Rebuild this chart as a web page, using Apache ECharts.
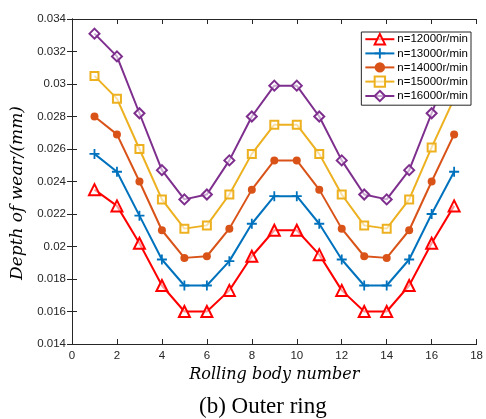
<!DOCTYPE html>
<html><head><meta charset="utf-8">
<script src="https://cdn.jsdelivr.net/npm/echarts@6/dist/echarts.min.js"></script>
<style>html,body{margin:0;padding:0;background:#fff}#c{width:486px;height:419px}</style>
</head><body><div id="c"></div>
<script>
const bodies = [1,2,3,4,5,6,7,8,9,10,11,12,13,14,15,16,17];
const n12000 = [0.0235,0.0225,0.0202,0.0176,0.0160,0.0160,0.0173,0.0194,0.0210,0.0210,0.0195,0.0173,0.0160,0.0160,0.0176,0.0202,0.0225];
const n13000 = [0.0257,0.0246,0.0219,0.0192,0.0176,0.0176,0.0191,0.0214,0.0231,0.0231,0.0214,0.0192,0.0176,0.0176,0.0192,0.0220,0.0246];
const n14000 = [0.0280,0.0269,0.0240,0.0210,0.0193,0.0194,0.0211,0.0235,0.0253,0.0253,0.0235,0.0211,0.0194,0.0193,0.0210,0.0240,0.0269];
const n15000 = [0.0305,0.0291,0.0260,0.0229,0.0211,0.0213,0.0232,0.0257,0.0275,0.0275,0.0257,0.0232,0.0213,0.0211,0.0229,0.0261,0.0291];
const n16000 = [0.0331,0.0317,0.0282,0.0247,0.0229,0.0232,0.0253,0.0280,0.0299,0.0299,0.0280,0.0253,0.0232,0.0229,0.0247,0.0282,0.0317];
const seriesNames = ['n=12000r/min','n=13000r/min','n=14000r/min','n=15000r/min','n=16000r/min'];
const colors = ['#FF0000','#0072BD','#D95319','#EDB120','#7E2F8E'];
const xTitle = 'Rolling body number';
const yTitle = 'Depth of wear/(mm)';
const caption = '(b) Outer ring';

const plus = 'path://M-0.18,-1L0.18,-1L0.18,-0.18L1,-0.18L1,0.18L0.18,0.18L0.18,1L-0.18,1L-0.18,0.18L-1,0.18L-1,-0.18L-0.18,-0.18Z';
const datasets = [n12000,n13000,n14000,n15000,n16000];
const symbols = ['triangle', plus, 'circle', 'rect', 'diamond'];
const sizes = [11, 10, 8, 8, 10];
const hollow = [true, false, false, true, true];

const chart = echarts.init(document.getElementById('c'), null, {renderer:'canvas'});
const axisLabelStyle = {color:'#262626', fontFamily:'Liberation Sans, Arial', fontSize:11.5};
const series = datasets.map((d,i)=>({
  name: seriesNames[i], type:'line',
  data: bodies.map((b,j)=>[b,d[j]]),
  symbol: symbols[i], symbolSize: sizes[i], showSymbol:true,
  lineStyle:{color:colors[i], width:2},
  itemStyle: hollow[i] ? {color:'rgba(255,255,255,0.6)', borderColor:colors[i], borderWidth:2} : {color:colors[i], borderColor:colors[i], borderWidth:0},
  z: 2+i, animation:false
}));
chart.setOption({
  animation:false,
  backgroundColor:'#fff',
  title:{text:caption, left:194, top:390, textStyle:{fontFamily:'Liberation Serif, Times New Roman', fontSize:23, fontWeight:'normal', color:'#000'}},
  grid:{left:72, right:5, top:19, bottom:75, show:false},
  graphic:[{
    type:'text', x:18, y:193, rotation:Math.PI/2,
    style:{text:yTitle, font:'italic 17px "DejaVu Serif", "Liberation Serif"', fill:'#000', textAlign:'center', textVerticalAlign:'middle'}
  }],
  legend:{
    data: seriesNames, orient:'vertical', right:15, top:32,
    backgroundColor:'#fff', borderColor:'#262626', borderWidth:1,
    padding:[1,3,3,3], itemGap:2, itemWidth:29, itemHeight:13,
    textStyle:{fontFamily:'Liberation Sans, Arial', fontSize:11.5, color:'#000', padding:[0,0,4,-2]},
    z: 20
  },
  xAxis:[{
    type:'value', min:0, max:18, interval:2,
    name:xTitle, nameLocation:'middle', nameGap:21,
    nameTextStyle:{fontFamily:'DejaVu Serif, Liberation Serif', fontStyle:'italic', fontSize:16, color:'#000'},
    axisLine:{show:true, lineStyle:{color:'#262626', width:1}},
    axisTick:{show:true, inside:true, length:5, lineStyle:{color:'#262626'}},
    axisLabel:Object.assign({margin:6}, axisLabelStyle),
    splitLine:{show:false}
  },{
    type:'value', min:0, max:18, interval:2, position:'top',
    axisLine:{show:true, lineStyle:{color:'#262626', width:1}},
    axisTick:{show:true, inside:true, length:5, lineStyle:{color:'#262626'}},
    axisLabel:{show:false}, splitLine:{show:false}
  }],
  yAxis:[{
    type:'value', min:0.014, max:0.034, interval:0.002,
    axisLine:{show:true, lineStyle:{color:'#262626', width:1}},
    axisTick:{show:true, inside:true, length:5, lineStyle:{color:'#262626'}},
    axisLabel:Object.assign({margin:6, formatter:v=>String(parseFloat(v.toFixed(3)))}, axisLabelStyle),
    splitLine:{show:false}
  },{
    type:'value', min:0.014, max:0.034, interval:0.002, position:'right',
    axisLine:{show:true, lineStyle:{color:'#262626', width:1}},
    axisTick:{show:true, inside:true, length:5, lineStyle:{color:'#262626'}},
    axisLabel:{show:false}, splitLine:{show:false}
  }],
  series: series
});
</script></body></html>
